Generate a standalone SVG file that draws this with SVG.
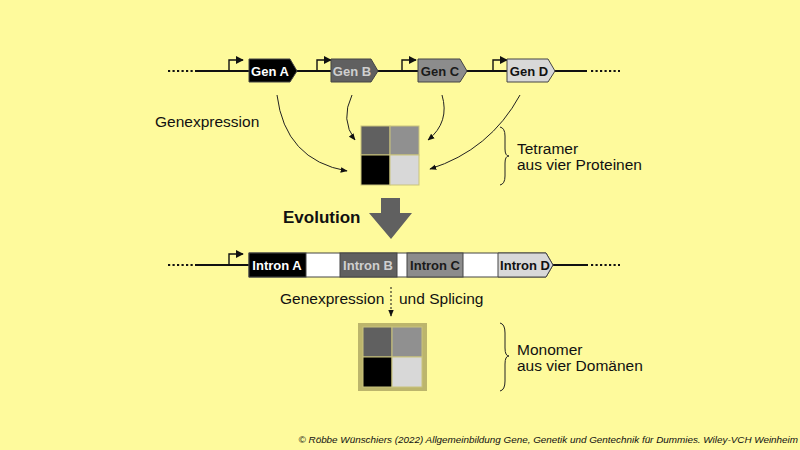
<svg xmlns="http://www.w3.org/2000/svg" width="800" height="450" viewBox="0 0 800 450">
<defs>
<style>
text{font-family:"Liberation Sans",Arial,sans-serif}
.gl{font-size:13px;font-weight:bold;text-anchor:middle}
.lbl{font-size:15.5px;fill:#111}
.line{stroke:#111;stroke-width:2.2;fill:none}
.dots{stroke:#111;stroke-width:2.2;stroke-dasharray:2.2 2.3;fill:none}
.box{stroke:#444;stroke-width:1}
.prom{stroke:#111;stroke-width:1.4;fill:none}
.cur{stroke:#222;stroke-width:1;fill:none}
.brace{stroke:#222;stroke-width:1;fill:none}
.sq{stroke:#c9c37c;stroke-width:1}
</style>
<marker id="ah" viewBox="0 0 10 10" refX="9" refY="5" markerWidth="7" markerHeight="7" orient="auto" markerUnits="userSpaceOnUse"><path d="M0,1 L10,5 L0,9 Z" fill="#111"/></marker>
<marker id="pa" viewBox="0 0 10 10" refX="9" refY="5" markerWidth="8" markerHeight="8" orient="auto" markerUnits="userSpaceOnUse"><path d="M0,0 L10,5 L0,10 Z" fill="#111"/></marker>
</defs>
<rect width="800" height="450" fill="#fefa9c"/>

<g id="top-dna">
<path class="dots" d="M168,71 H197"/>
<path class="line" d="M197,71 H587"/>
<path class="dots" d="M591,71 H620"/>
<path class="prom" d="M229,71 V60 H243" marker-end="url(#pa)"/>
<path class="prom" d="M317,71 V60 H331" marker-end="url(#pa)"/>
<path class="prom" d="M402,71 V60 H416" marker-end="url(#pa)"/>
<path class="prom" d="M493,71 V60 H507" marker-end="url(#pa)"/>
</g>
<g id="genA"><path class="box" d="M249,59 H290 L297,71 L290,82 H249 Z" fill="#000"/><text class="gl" x="270" y="76" fill="#fff">Gen A</text></g>
<g id="genB"><path class="box" d="M331,59 H371 L378,71 L371,82 H331 Z" fill="#606060"/><text class="gl" x="352" y="76" fill="#cfcfcf">Gen B</text></g>
<g id="genC"><path class="box" d="M418,59 H460 L467,71 L460,82 H418 Z" fill="#8c8c8c"/><text class="gl" x="440" y="76" fill="#1a1a1a">Gen C</text></g>
<g id="genD"><path class="box" d="M507,59 H548 L555,71 L548,82 H507 Z" fill="#d8d8d8"/><text class="gl" x="529" y="76" fill="#111">Gen D</text></g>

<g id="connectors">
<path class="cur" d="M277,95 Q285,160 347,171" marker-end="url(#ah)"/>
<path class="cur" d="M352,95 Q340,120 355,140" marker-end="url(#ah)"/>
<path class="cur" d="M442,95 Q450,122 428,140" marker-end="url(#ah)"/>
<path class="cur" d="M520,95 Q490,150 430,169" marker-end="url(#ah)"/>
<path d="M391,287 V316" stroke="#111" stroke-width="1" stroke-dasharray="2 2" fill="none" marker-end="url(#ah)"/>
</g>

<text class="lbl" x="155" y="127">Genexpression</text>

<g id="tetramer">
<rect class="sq" x="361" y="126" width="29" height="29" fill="#606060"/>
<rect class="sq" x="390" y="126" width="29" height="29" fill="#909090"/>
<rect class="sq" x="361" y="155" width="29" height="30" fill="#000"/>
<rect class="sq" x="390" y="155" width="29" height="30" fill="#d8d8d8"/>
</g>

<g id="tetramer-label">
<path class="brace" d="M500,127 Q505,128 505,136 V149 Q505,156 509,156 Q505,156 505,163 V176 Q505,184 500,185"/>
<text class="lbl" x="517" y="154">Tetramer</text>
<text class="lbl" x="517" y="170">aus vier Proteinen</text>
</g>

<g id="evolution">
<text x="283" y="223" font-size="17px" font-weight="bold" fill="#111">Evolution</text>
<path d="M381,198 H400 V213 H412 L391,239 L369,213 H381 Z" fill="#606060"/>
</g>

<g id="bottom-dna">
<path class="dots" d="M168,265 H197"/>
<path class="line" d="M197,265 H588"/>
<path class="dots" d="M591,265 H620"/>
<path class="prom" d="M229,265 V254 H243" marker-end="url(#pa)"/>
</g>
<g id="fused-gene">
<path class="box" d="M249,253 H546 L553,265 L546,277 H249 Z" fill="#fff"/>
<rect class="box" x="249" y="253" width="57" height="24" fill="#000"/>
<rect class="box" x="340" y="253" width="57" height="24" fill="#606060"/>
<rect class="box" x="407" y="253" width="56" height="24" fill="#8c8c8c"/>
<path class="box" d="M498,253 H546 L553,265 L546,277 H498 Z" fill="#d8d8d8"/>
<text class="gl" x="277" y="270" fill="#fff">Intron A</text>
<text class="gl" x="368" y="270" fill="#cfcfcf">Intron B</text>
<text class="gl" x="435" y="270" fill="#1a1a1a">Intron C</text>
<text class="gl" x="525" y="270" fill="#111">Intron D</text>
</g>

<text class="lbl" x="280" y="304">Genexpression</text>
<text class="lbl" x="399" y="304">und Splicing</text>

<g id="monomer">
<rect x="358" y="323" width="69" height="68" fill="#bcb56c"/>
<rect class="sq" x="363" y="327" width="29" height="30" fill="#606060"/>
<rect class="sq" x="392" y="327" width="30" height="30" fill="#909090"/>
<rect class="sq" x="363" y="357" width="29" height="30" fill="#000"/>
<rect class="sq" x="392" y="357" width="30" height="30" fill="#d8d8d8"/>
</g>

<g id="monomer-label">
<path class="brace" d="M500,323 Q505,324 505,333 V348 Q505,356 509,356 Q505,356 505,364 V381 Q505,390 500,391"/>
<text class="lbl" x="517" y="355">Monomer</text>
<text class="lbl" x="517" y="371">aus vier Domänen</text>
</g>

<text x="798" y="443" text-anchor="end" font-size="9.9px" font-style="italic" fill="#111">© Röbbe Wünschiers (2022) Allgemeinbildung Gene, Genetik und Gentechnik für Dummies. Wiley-VCH Weinheim</text>
</svg>
